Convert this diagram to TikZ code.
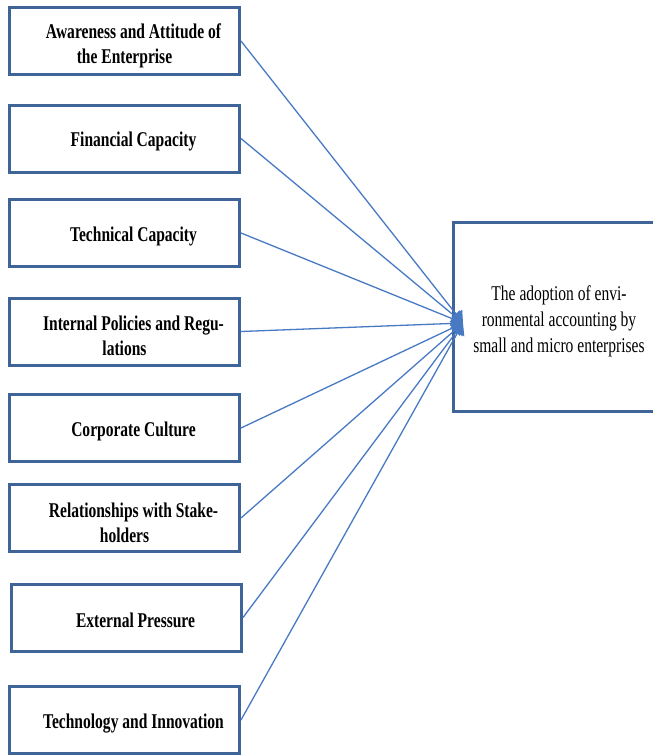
\documentclass[tikz,border=0pt]{standalone}
\usepackage{fontspec}
\setmainfont[FakeStretch=0.74]{Liberation Serif}
\usetikzlibrary{arrows.meta}
\definecolor{boxblue}{RGB}{62,100,152}
\definecolor{lineblue}{RGB}{72,122,196}
% strut that pushes the text down, plus the first-line indent
\newcommand\lead[1]{\rule{0pt}{#1}\hspace*{18pt}}

\begin{document}
\begin{tikzpicture}[x=1pt,y=-1pt,
    factor/.style={draw=boxblue, line width=3pt, minimum width=230pt,
        minimum height=67pt, inner sep=0pt, align=center,
        font=\bfseries\fontsize{21}{25}\selectfont},
    outcome/.style={draw=boxblue, line width=3pt, minimum width=212pt,
        minimum height=189pt, inner sep=0pt, align=center,
        font=\fontsize{21}{26}\selectfont},
    link/.style={draw=lineblue, line width=1.3pt,
        -{Triangle[length=11pt,width=15pt]}}]
            \useasboundingbox (0,0) rectangle (653,756);
            \clip (0,0) rectangle (653,756);
            \node[factor](aware) at (124.5,41)    {\lead{23.5pt}Awareness and Attitude of\\the Enterprise};
            \node[factor](fin)   at (124.5,138.5) {\lead{21pt}Financial Capacity};
            \node[factor](tech)  at (124.5,233)   {\lead{21pt}Technical Capacity};
            \node[factor](pol)   at (124.5,331.5) {\lead{23.5pt}Internal Policies and Regu-\\lations};
            \node[factor](cult)  at (124.5,428)   {\lead{21pt}Corporate Culture};
            \node[factor](stake) at (124.5,518)   {\lead{23.5pt}Relationships with Stake-\\holders};
            \node[factor](ext)   at (126.5,617.5) {\lead{21pt}External Pressure};
            \node[factor](innov) at (124.5,720)   {\lead{21pt}Technology and Innovation};
            \node[outcome](adopt) at (559,317) {\rule{0pt}{24pt}The adoption of envi-\\ronmental accounting by\\small and micro enterprises};
            \coordinate (tip) at (463,323);
            \path
                (aware.east) edge [link] (tip)
                (fin.east)   edge [link] (tip)
                (tech.east)  edge [link] (tip)
                (pol.east)   edge [link] (tip)
                (cult.east)  edge [link] (tip)
                (stake.east) edge [link] (tip)
                (ext.east)   edge [link] (tip)
                (innov.east) edge [link] (tip)
                ;
        \end{tikzpicture}
\end{document}
